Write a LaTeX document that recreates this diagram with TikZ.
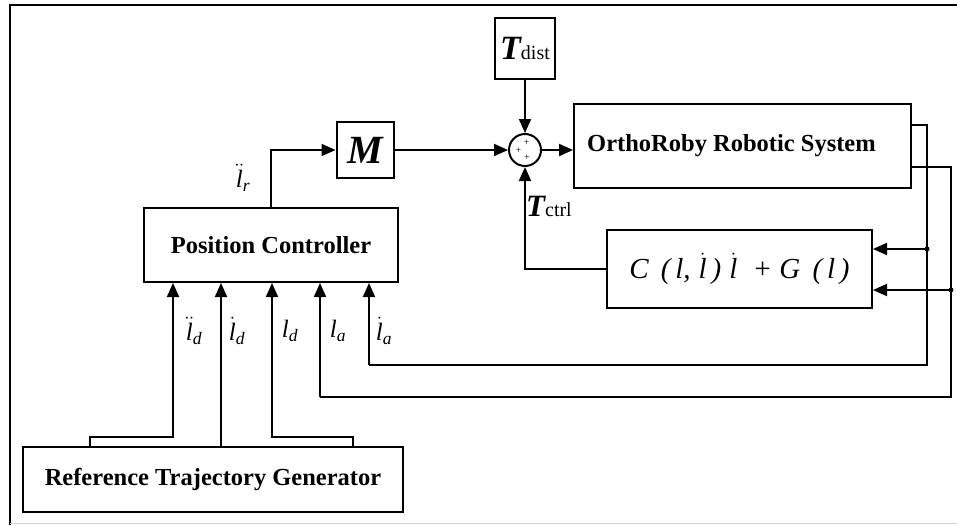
\documentclass[tikz,border=0pt]{standalone}
\usepackage{amsmath}
\usepackage{fontspec}
\setmainfont{Liberation Serif}
\usetikzlibrary{arrows.meta,calc}
\newcommand\myl{\text{\itshape l}}
\newcommand\dotl{\ensuremath{\dot{\myl}}}
\newcommand\ddotl{\ensuremath{\ddot{\myl}}}
\begin{document}
\begin{tikzpicture}[x=1pt,y=-1pt,
  box/.style={draw,line width=2pt,inner sep=0pt,fill=white},
  wire/.style={line width=2pt},
  thinwire/.style={line width=1.4pt},
  arr/.style={-{Triangle[length=14pt,width=12pt]}},
  lbl/.style={inner sep=0pt,font=\fontsize{25}{27}\selectfont},
  btxt/.style={font=\fontsize{24.5}{27}\selectfont\bfseries}]
\useasboundingbox (0,0) rectangle (957,525);
\fill[white] (0,0) rectangle (957,525);
\draw[line width=2pt] (10,525) -- (10,5) -- (957,5);
\draw[gray!35, line width=1pt] (10,523) -- (957,523);

% blocks
\node[box, minimum width=60pt, minimum height=61pt] (tdist) at (525,48.5)
  {{\fontsize{34}{34}\selectfont\bfseries\itshape T}{\fontsize{20}{20}\selectfont dist}};
\node[box, minimum width=57pt, minimum height=56pt] (M) at (365,150)
  {\fontsize{40}{40}\selectfont\bfseries\itshape M};
\node[draw, circle, line width=2pt, minimum size=32pt, inner sep=0pt] (sum) at (525,150) {};
\node[inner sep=0pt, font=\fontsize{10}{10}\selectfont] (p1) at ($(sum.center)+(1.5,-7)$) {+};
\node[inner sep=0pt, font=\fontsize{10}{10}\selectfont] (p2) at ($(sum.center)+(-6.5,1)$) {+};
\node[inner sep=0pt, font=\fontsize{10}{10}\selectfont] (p3) at ($(sum.center)+(2,8)$) {+};
\node[box, btxt, minimum width=337pt, minimum height=84pt] (robot) at (742.5,146)
  {\hspace*{-22pt}OrthoRoby Robotic System};
\node[box, minimum width=265pt, minimum height=78pt] (cbox) at (739.5,269)
  {\fontsize{29}{32}\selectfont\itshape C\, (\,\myl,\;\dotl\,)\;\dotl\; + G\, (\,\myl\,)};
\node[box, btxt, minimum width=254pt, minimum height=74pt] (pc) at (271,245)
  {Position Controller};
\node[box, btxt, minimum width=380pt, minimum height=65pt] (rtg) at (213,479.5)
  {Reference Trajectory Generator};

% forward path
\draw[wire, arr] (pc.north) |- (M.west);
\draw[wire, arr] (M.east) -- (sum.west);
\draw[wire, arr] (tdist.south) -- (sum.north);
\draw[wire, arr] (sum.east) -- (sum.east -| robot.west);
\draw[wire, arr] (cbox.west) -| (sum.south);

% robot outputs and feedback
\coordinate (o1) at (911,125);
\coordinate (o2) at (911,167);
\coordinate (d1) at (927,249);
\coordinate (d2) at (951,290);
\draw[thinwire] (o1) -- (927,125) -- (927,365) -- (369,365);
\draw[thinwire] (o2) -- (951,167) -- (951,397) -- (320,397);
\draw[wire, arr] (369,365) -- (369,0 |- pc.south);
\draw[wire, arr] (320,397) -- (320,0 |- pc.south);
\fill (d1) circle (2.5);
\fill (d2) circle (2.5);
\draw[wire, arr] (d1) -- (d1 -| cbox.east);
\draw[wire, arr] (d2) -- (d2 -| cbox.east);

% reference generator to controller
\draw[wire, arr] (90,0 |- rtg.north) -- (90,437) -- (173,437) -- (173,0 |- pc.south);
\draw[wire, arr] (221,0 |- rtg.north) -- (221,0 |- pc.south);
\draw[wire, arr] (353,0 |- rtg.north) -- (353,437) -- (272,437) -- (272,0 |- pc.south);

% labels
\node[lbl] (lr) at (243,178) {$\ddotl_{\text{\itshape r}}$};
\node[lbl, anchor=west] (tc) at (526,206)
  {{\fontsize{31}{31}\selectfont\bfseries\itshape T}{\fontsize{20}{20}\selectfont ctrl}};
\node[lbl] (l1) at (194,331) {$\ddotl_{\text{\itshape d}}$};
\node[lbl] (l2) at (237,331) {$\dotl_{\text{\itshape d}}$};
\node[lbl] (l3) at (290,331) {$\myl_{\text{\itshape d}}$};
\node[lbl] (l4) at (338,331) {$\myl_{\text{\itshape a}}$};
\node[lbl] (l5) at (384,331) {$\dotl_{\text{\itshape a}}$};
\end{tikzpicture}
\end{document}
